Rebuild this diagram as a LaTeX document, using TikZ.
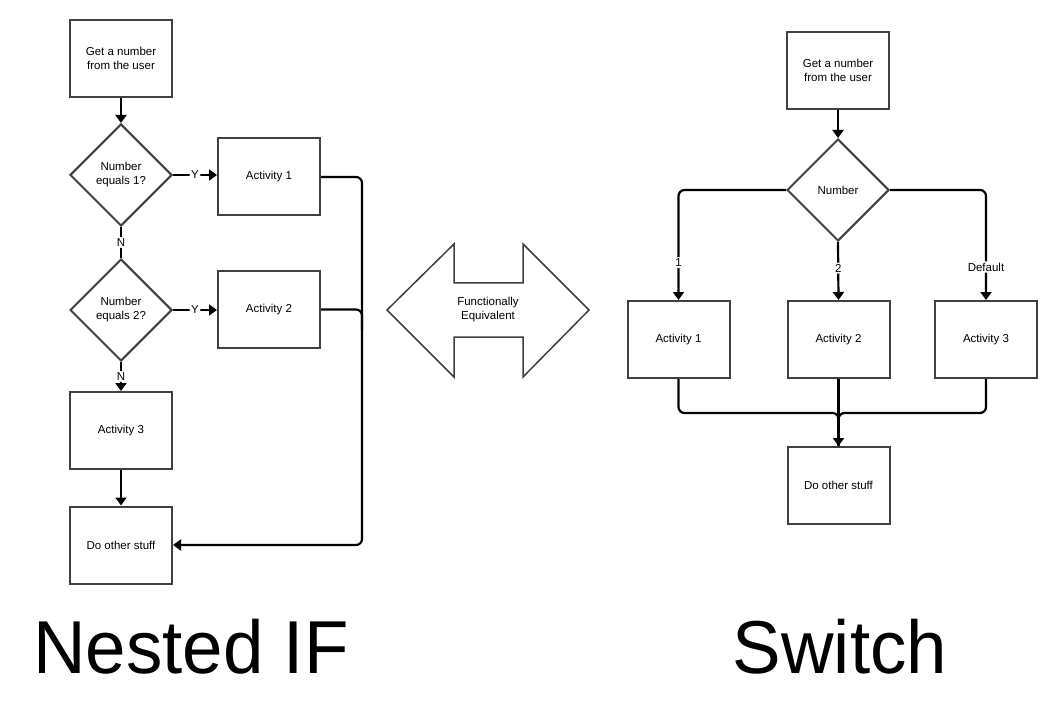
\documentclass[tikz,border=0pt]{standalone}
\usepackage{fontspec}
\setmainfont{Liberation Sans}
\usetikzlibrary{arrows.meta,shapes.geometric}
\begin{document}
\begin{tikzpicture}[x=1pt,y=-1pt,
  box/.style={draw=black!75,line width=2pt,minimum width=102pt,minimum height=77pt,inner sep=0pt,align=center,font=\fontsize{11.5}{14}\selectfont},
  dia/.style={draw=black!75,line width=2pt,diamond,minimum width=102pt,minimum height=102pt,inner sep=0pt,align=center,font=\fontsize{11.5}{14}\selectfont},
  conn/.style={line width=2.2pt,black,rounded corners=6pt},
  arr/.style={conn,-{Triangle[width=11pt,length=8pt]}},
  lbl/.style={fill=white,inner sep=1.5pt,font=\fontsize{11.5}{14}\selectfont},
  big/.style={font=\fontsize{75}{80}\selectfont,anchor=base,inner sep=0pt}]
\useasboundingbox (0,0) rectangle (1057,711);
\fill[white] (0,0) rectangle (1057,711);
% Left: nested IF
\node[box] (lget) at (121,58.5) {Get a number\\from the user};
\node[dia] (ld1) at (121,175) {Number\\equals 1?};
\node[box] (la1) at (269,177) {Activity 1};
\node[dia] (ld2) at (121,310) {Number\\equals 2?};
\node[box] (la2) at (269,309.5) {Activity 2};
\node[box] (la3) at (121,430.5) {Activity 3};
\node[box] (ldo) at (121,545) {Do other stuff};
\coordinate (lc1) at (362,177);
\coordinate (lc2) at (362,309.5);
\coordinate (lc3) at (362,545);
\coordinate (lc4) at (362,330);
\draw[arr] (lget) -- (ld1);
\draw[arr] (ld1.east) -- node[lbl] {Y} (la1.west |- ld1.east);
\draw[arr] (ld2.east) -- node[lbl] {Y} (la2.west |- ld2.east);
\draw[conn] (ld1) -- node[lbl,pos=0.5] {N} (ld2);
\draw[arr] (ld2) -- node[lbl,pos=0.5] {N} (la3);
\draw[arr] (la3) -- (ldo);
\draw[arr] (la1.east) -- (lc1) -- (lc3) -- (ldo.east);
\draw[conn] (la2.east) -- (lc2) -- (lc4);
% Middle double arrow
\draw[draw=black!75,line width=1.5pt,line join=miter] (387,310) -- (454,244) -- (454,283) -- (523,283) -- (523,244) -- (589,310) -- (523,377) -- (523,337) -- (454,337) -- (454,377) -- cycle;
\node[align=center,font=\fontsize{11.5}{14}\selectfont] (feq) at (488,310) {Functionally\\Equivalent};
% Right: switch
\node[box] (rget) at (838,70.5) {Get a number\\from the user};
\node[dia] (rd) at (838,190) {Number};
\node[box] (ra1) at (678.5,339.5) {Activity 1};
\node[box] (ra2) at (838.5,339.5) {Activity 2};
\node[box] (ra3) at (986,339.5) {Activity 3};
\node[box] (rdo) at (838.5,485.5) {Do other stuff};
\coordinate (rl) at (678.5,190);
\coordinate (rr) at (986,190);
\coordinate (bl) at (678.5,413);
\coordinate (br) at (986,413);
\coordinate (bm) at (838.5,413);
\draw[arr] (rget) -- (rd);
\draw[arr] (rd.west) -- (rl) -- node[lbl,pos=0.66] {1} (ra1.north);
\draw[arr] (rd.south) -- node[lbl,pos=0.45] {2} (ra2.north);
\draw[arr] (rd.east) -- (rr) -- node[lbl,pos=0.7] {Default} (ra3.north);
\draw[conn] (ra1.south) -- (bl) -- (bm) -- (rdo.north);
\draw[conn] (ra3.south) -- (br) -- (bm) -- (rdo.north);
\draw[arr] (ra2.south) -- (rdo.north);
% Titles
\node[big] (tnest) at (191,673) {\scalebox{0.97}[1]{Nested IF}};
\node[big] (tsw) at (840,673) {\scalebox{0.97}[1]{Switch}};
\end{tikzpicture}
\end{document}
